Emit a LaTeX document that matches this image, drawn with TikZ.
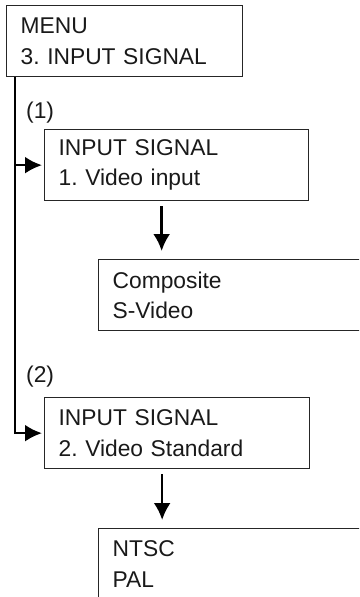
\documentclass[tikz,border=0pt]{standalone}
\usepackage{fontspec}
\setmainfont{Liberation Sans}
\frenchspacing
\usetikzlibrary{arrows.meta}
\tikzset{
  menubox/.style={draw=black!85, line width=1.3pt, anchor=north west, align=left,
    inner xsep=14pt, inner ysep=0pt, minimum height=71pt, text=black!90,
    font=\fontsize{22.8}{30.5}\selectfont},
  step label/.style={anchor=base west, inner sep=0pt, text=black!90,
    font=\fontsize{22.8}{30.5}\selectfont},
  flow/.style={line width=2.6pt, ->},
}
\begin{document}
\begin{tikzpicture}[x=1pt, y=-1pt, >={Latex[length=17pt,width=17pt]}]
\useasboundingbox (0,0) rectangle (359,597);
\clip (0,0) rectangle (359,597);

%%%%%%%%%%%% Menu
\node[menubox, text width=208pt] (menu) at (6,5) {MENU\\3. INPUT SIGNAL};

%%%%%%%%%%%% (1) Video input
\node[menubox, text width=236pt] (vidin) at (44,129) {INPUT SIGNAL\\1. Video input};
\node[step label] (one) at ([shift={(-18pt,11pt)}]vidin.north west) {(1)};
\node[menubox, text width=272pt] (comp) at (98,259) {Composite\\S-Video};

%%%%%%%%%%%% (2) Video standard
\node[menubox, text width=237pt] (vidstd) at (44,397) {INPUT SIGNAL\\2. Video Standard};
\node[step label] (two) at ([shift={(-18pt,15pt)}]vidstd.north west) {(2)};
\node[menubox, text width=272pt] (ntsc) at (98,528) {NTSC\\PAL};

% branches off the menu
\draw[flow, shorten >=2pt] ([xshift=9pt]menu.south west) |- (vidin.west);
\draw[flow, shorten >=2pt] ([xshift=9pt]menu.south west) |- (vidstd.west);

% choices
\draw[flow] ([xshift=-15pt,yshift=-5pt]vidin.south) -- ([xshift=-15pt,yshift=8pt]vidin.south |- comp.north);
\draw[flow] ([xshift=-15pt,yshift=-5pt]vidstd.south) -- ([xshift=-15pt,yshift=8pt]vidstd.south |- ntsc.north);
\end{tikzpicture}
\end{document}
